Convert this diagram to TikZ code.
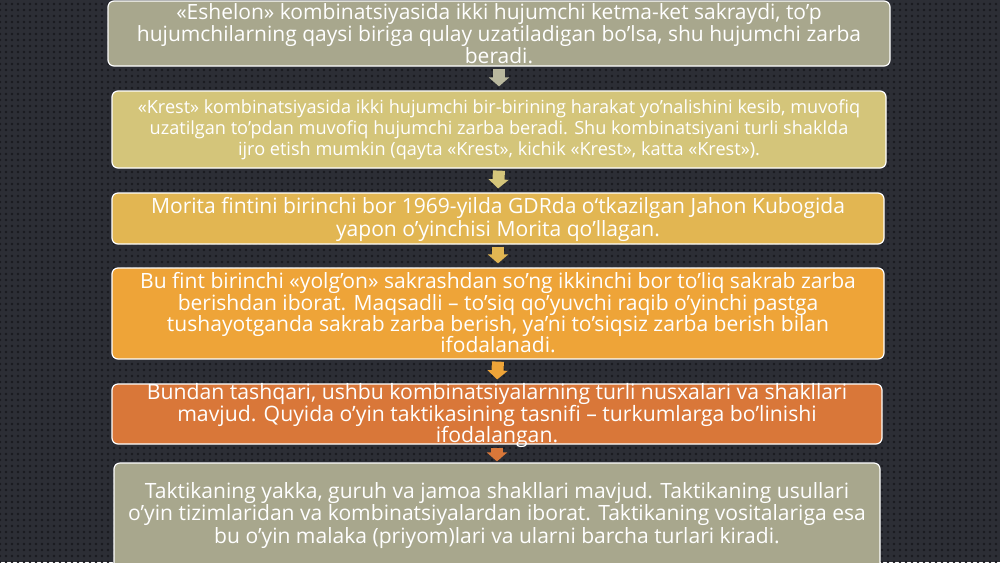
\documentclass[tikz,border=0pt]{standalone}
\usepackage{fontspec}
\setmainfont{Open Sans}
\usetikzlibrary{arrows.meta,patterns.meta}
\lineskiplimit=-100pt
\definecolor{bg}{HTML}{2C2E35}
\definecolor{dotc}{HTML}{1A1B20}
\definecolor{cA}{HTML}{A8A78D}
\definecolor{cB}{HTML}{D4C57A}
\definecolor{cC}{HTML}{E2B652}
\definecolor{cD}{HTML}{EEA438}
\definecolor{cE}{HTML}{D97739}
\definecolor{aA}{HTML}{B9B89E}
\tikzset{
  box/.style={draw=white, line width=0.9pt, rounded corners=4.5pt, inner sep=0pt},
  txt/.style={text=white, align=center, inner sep=0pt},
  blockarrow/.style={line width=9pt, -{Triangle[width=15pt,length=6.75pt]}, shorten <=1.5pt, shorten >=3pt}
}
\begin{document}
\begin{tikzpicture}[x=0.75pt,y=-0.75pt]
\useasboundingbox (0,0) rectangle (1000,562);
\fill[bg] (0,0) rectangle (1000,562);
\fill[pattern={Dots[distance=4.5pt,radius=1.1pt]}, pattern color=dotc] (0,0) rectangle (1000,562);

\node[box, fill=cA, minimum width=586.5pt, minimum height=48.75pt] (b1) at (499,33.5) {};
\node[box, fill=cB, minimum width=580.5pt, minimum height=57.75pt] (b2) at (499,129.5) {};
\node[box, fill=cC, minimum width=579pt, minimum height=38.25pt] (b3) at (498,218.5) {};
\node[box, fill=cD, minimum width=579pt, minimum height=68.25pt] (b4) at (498,313.5) {};
\node[box, fill=cE, minimum width=577.5pt, minimum height=45pt] (b5) at (497,414) {};
\node[box, fill=cA, minimum width=574.5pt, minimum height=84pt] (b6) at (497,519) {};

\node[txt, font=\fontsize{15.75}{16.7}\selectfont] (t1) at (499,33.5) {«Eshelon» kombinatsiyasida ikki hujumchi ketma-ket sakraydi, to’p\\hujumchilarning qaysi biriga qulay uzatiladigan bo’lsa, shu hujumchi zarba\\beradi.};
\node[txt, font=\fontsize{13.6}{15.75}\selectfont] (t2) at (499,129.5) {«Krest» kombinatsiyasida ikki hujumchi bir-birining harakat yo’nalishini kesib, muvofiq\\uzatilgan to’pdan muvofiq hujumchi zarba beradi. Shu kombinatsiyani turli shaklda\\ijro etish mumkin (qayta «Krest», kichik «Krest», katta «Krest»).};
\node[txt, font=\fontsize{15.8}{17.25}\selectfont] (t3) at (498,219.5) {Morita fintini birinchi bor 1969-yilda GDRda o‘tkazilgan Jahon Kubogida\\yapon o’yinchisi Morita qo’llagan.};
\node[txt, font=\fontsize{15.8}{16}\selectfont] (t4) at (498,313) {Bu fint birinchi «yolg’on» sakrashdan so’ng ikkinchi bor to’liq sakrab zarba\\berishdan iborat. Maqsadli – to’siq qo’yuvchi raqib o’yinchi pastga\\tushayotganda sakrab zarba berish, ya’ni to’siqsiz zarba berish bilan\\ifodalanadi.};
\node[txt, font=\fontsize{15.9}{16.1}\selectfont] (t5) at (497,415.5) {Bundan tashqari, ushbu kombinatsiyalarning turli nusxalari va shakllari\\mavjud. Quyida o’yin taktikasining tasnifi – turkumlarga bo’linishi\\ifodalangan.};
\node[txt, font=\fontsize{15.8}{17.1}\selectfont] (t6) at (497,515.5) {Taktikaning yakka, guruh va jamoa shakllari mavjud. Taktikaning usullari\\o’yin tizimlaridan va kombinatsiyalardan iborat. Taktikaning vositalariga esa\\bu o’yin malaka (priyom)lari va ularni barcha turlari kiradi.};

\draw[blockarrow, aA] (b1.south) -- (b2.north);
\draw[blockarrow, cB] (b2.south) -- (b3.north);
\draw[blockarrow, cC] (b3.south) -- (b4.north);
\draw[blockarrow, cD] (b4.south) -- (b5.north);
\draw[blockarrow, cE, shorten <=2.25pt, shorten >=0.75pt] (b5.south) -- (b6.north);
\end{tikzpicture}
\end{document}
